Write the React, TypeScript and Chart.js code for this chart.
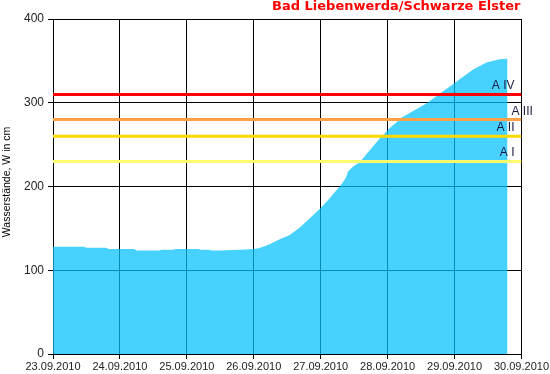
import React, { useEffect, useRef } from "react";
import { Chart, registerables } from "chart.js";

Chart.register(...registerables);

const titleText = "Bad Liebenwerda/Schwarze Elster";
const yAxisTitle = "Wasserstände, W in cm";
const dateLabels = [
  "23.09.2010",
  "24.09.2010",
  "25.09.2010",
  "26.09.2010",
  "27.09.2010",
  "28.09.2010",
  "29.09.2010",
  "30.09.2010",
];

// hours since 23.09.2010 00:00
const hours = [
  0, 11, 12, 19, 20, 29, 30, 38, 39, 43, 44, 52, 53, 56, 57, 60, 62, 67, 70.6,
  73.4, 75.3, 77.7, 81.3, 84.9, 88.5, 92.1, 96.2, 99.2, 102.8, 104.6, 105.2,
  105.8, 107.6, 110, 113.5, 117.1, 120.7, 125.4, 129, 133.9, 139.7, 144.6,
  150.4, 155.4, 160.1, 163,
];
const levels = [
  128, 128, 127, 127, 125.5, 125.5, 123.5, 123.5, 124.5, 124.5, 125.5, 125.5,
  124.5, 124.5, 123.5, 123.5, 124, 124.5, 125, 126, 128, 131, 137, 142, 151,
  162, 175, 186, 200, 208, 212, 218, 224, 229, 243, 257, 269.5, 283, 290, 299,
  313, 325, 339, 348, 352, 352.5,
];

const alarmNames = ["A I", "A II", "A III", "A IV"];
const alarmValues = [230, 260, 280, 310];
const alarmColors = ["#FFFF6E", "#FFD800", "#FFA048", "#FF0000"];

export default function App() {
  const canvasRef = useRef<HTMLCanvasElement | null>(null);

  useEffect(() => {
    document.body.style.margin = "0";
    const canvas = canvasRef.current;
    if (!canvas) return;

    const levelData = hours.map((h, i) => ({ x: h, y: levels[i] }));

    const alarmDatasets = alarmValues.map((v, i) => ({
      label: alarmNames[i],
      data: [
        { x: 0, y: v },
        { x: 168, y: v },
      ],
      borderColor: alarmColors[i],
      borderWidth: 3,
      pointRadius: 0,
      fill: false,
      order: 1,
    }));

    const textPlugin = {
      id: "texts",
      afterDatasetsDraw(chart: any) {
        const ctx = chart.ctx as CanvasRenderingContext2D;
        const y = chart.scales.y;
        const area = chart.chartArea;
        ctx.save();
        // title
        ctx.font = "bold 13px 'DejaVu Sans'";
        ctx.fillStyle = "#FF0000";
        ctx.textAlign = "right";
        ctx.textBaseline = "middle";
        ctx.fillText(titleText, area.right - 1, 7);
        // y axis title
        ctx.save();
        ctx.translate(7, 182);
        ctx.rotate(-Math.PI / 2);
        ctx.font = "10.5px 'Liberation Sans'";
        ctx.fillStyle = "#000";
        ctx.textAlign = "center";
        ctx.textBaseline = "middle";
        ctx.fillText(yAxisTitle, 0, 0);
        ctx.restore();
        // alarm labels
        ctx.font = "12px 'Liberation Sans'";
        ctx.fillStyle = "#1a1a40";
        ctx.textBaseline = "alphabetic";
        alarmValues.forEach((v, i) => {
          const py = y.getPixelForValue(v) - 5;
          if (alarmNames[i] === "A III") {
            ctx.textAlign = "left";
            ctx.fillText(alarmNames[i], area.right - 10, py);
          } else {
            ctx.textAlign = "right";
            ctx.fillText(alarmNames[i], area.right - 7, py);
          }
        });
        ctx.restore();
      },
    };

    const chart = new Chart(canvas, {
      type: "line",
      data: {
        datasets: [
          ...alarmDatasets,
          {
            label: "W",
            data: levelData,
            borderWidth: 0,
            borderColor: "rgba(0,191,255,0)",
            backgroundColor: "rgba(0,191,255,0.72)",
            pointRadius: 0,
            fill: "origin",
            tension: 0,
            order: 2,
          },
        ],
      },
      options: {
        animation: false,
        responsive: false,
        maintainAspectRatio: false,
        layout: { padding: { top: 19, right: 27, left: 0, bottom: 0 } },
        plugins: {
          legend: { display: false },
          tooltip: { enabled: false },
          title: { display: false },
        },
        scales: {
          x: {
            type: "linear",
            min: 0,
            max: 168,
            afterFit(scale: any) {
              scale.height = 20;
            },
            grid: {
              color: "#000",
              lineWidth: 1,
              tickLength: 5,
              drawOnChartArea: true,
            },
            border: { color: "#000", width: 1 },
            ticks: {
              stepSize: 24,
              autoSkip: false,
              maxRotation: 0,
              padding: 1,
              color: "#222",
              font: { family: "Liberation Sans", size: 11 },
              callback: (v: any) => dateLabels[Math.round(Number(v) / 24)] ?? "",
            },
          },
          y: {
            type: "linear",
            min: 0,
            max: 400,
            afterFit(scale: any) {
              scale.width = 53;
            },
            grid: { color: "#000", lineWidth: 1, tickLength: 5 },
            border: { color: "#000", width: 1 },
            ticks: {
              stepSize: 100,
              padding: 4,
              color: "#222",
              font: { family: "Liberation Sans", size: 12 },
            },
          },
        },
      },
      plugins: [textPlugin],
    });

    return () => chart.destroy();
  }, []);

  return (
    <div style={{ position: "fixed", left: 0, top: 0, width: 550, height: 374 }}>
      <canvas ref={canvasRef} width={550} height={374} />
    </div>
  );
}
